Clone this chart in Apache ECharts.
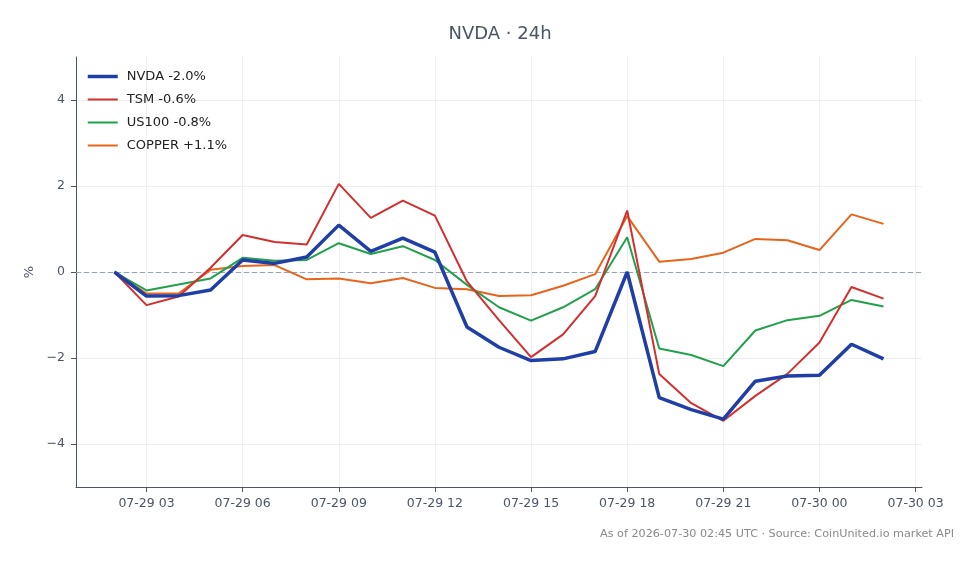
<!DOCTYPE html>
<html>
<head>
<meta charset="utf-8">
<script src="https://cdn.jsdelivr.net/npm/echarts@6/dist/echarts.min.js"></script>
<style>
  html, body { margin: 0; padding: 0; background: #fff; }
  #main { width: 980px; height: 564px; }
</style>
</head>
<body>
<div id="main"></div>
<script>
// hours since 07-29 00:00 UTC
var hours = [2, 3, 4, 5, 6, 7, 8, 9, 10, 11, 12, 13, 14, 15, 16, 17, 18, 19, 20, 21, 22, 23, 24, 25, 26];
var nvda = [0, -0.56, -0.55, -0.42, 0.28, 0.2, 0.35, 1.09, 0.48, 0.79, 0.46, -1.28, -1.75, -2.06, -2.02, -1.85, 0, -2.92, -3.2, -3.42, -2.54, -2.42, -2.4, -1.68, -2.02];
var tsm = [0, -0.77, -0.57, 0.1, 0.86, 0.7, 0.64, 2.05, 1.26, 1.66, 1.31, -0.22, -1.12, -1.98, -1.45, -0.56, 1.43, -2.37, -3.05, -3.46, -2.88, -2.37, -1.64, -0.35, -0.62];
var us100 = [0, -0.43, -0.29, -0.15, 0.33, 0.26, 0.28, 0.67, 0.42, 0.6, 0.28, -0.3, -0.82, -1.13, -0.82, -0.4, 0.81, -1.78, -1.93, -2.19, -1.36, -1.12, -1.02, -0.65, -0.8];
var copper = [0, -0.5, -0.5, 0.05, 0.14, 0.16, -0.17, -0.15, -0.26, -0.14, -0.37, -0.4, -0.56, -0.54, -0.32, -0.05, 1.3, 0.24, 0.3, 0.45, 0.77, 0.74, 0.51, 1.34, 1.12];
var xTicks = [3, 6, 9, 12, 15, 18, 21, 24, 27];
var yTicks = [-4, -2, 0, 2, 4];

var names = ['NVDA -2.0%', 'TSM -0.6%', 'US100 -0.8%', 'COPPER +1.1%'];
var colors = ['#1f3fa6', '#d32f2f', '#22a04b', '#e8641b'];
var widths = [3.5, 2, 2, 2];
var values = [nvda, tsm, us100, copper];

function pair(vals) {
    return hours.map(function (h, i) { return [h, vals[i]]; });
}

var font = 'DejaVu Sans';
var inkColor = '#4a5568';

var chartDom = document.getElementById('main');
var myChart = echarts.init(chartDom);

var series = values.map(function (vals, i) {
    return {
        name: names[i],
        type: 'line',
        data: pair(vals),
        symbol: 'none',
        z: 10 - i,
        lineStyle: { color: colors[i], width: widths[i] },
        itemStyle: { color: colors[i] }
    };
});
// zero line
series[0].markLine = {
    silent: true,
    symbol: 'none',
    label: { show: false },
    lineStyle: { color: '#94a3b8', type: [5, 3], width: 1 },
    data: [{ yAxis: 0 }]
};

var option = {
    animation: false,
    textStyle: { fontFamily: font },
    title: [{
        text: 'NVDA · 24h',
        left: 495,
        top: 20,
        textAlign: 'center',
        textStyle: { fontFamily: font, fontSize: 18, fontWeight: 'normal', color: inkColor }
    }, {
        text: 'As of 2026-07-30 02:45 UTC · Source: CoinUnited.io market API',
        right: 21,
        top: 524,
        textStyle: { fontFamily: font, fontSize: 11.2, fontWeight: 'normal', color: '#8a8a8a' }
    }],
    legend: {
        orient: 'vertical',
        left: 86,
        top: 70,
        padding: 0,
        itemWidth: 30,
        itemHeight: 11,
        itemGap: 10,
        itemStyle: { opacity: 0 },
        textStyle: { fontFamily: font, fontSize: 13, color: '#222', padding: [0, 0, 0, 4] },
        data: names.map(function (n, i) {
            return { name: n, lineStyle: { width: widths[i], color: colors[i] } };
        })
    },
    grid: { left: 76, right: 58, top: 57, bottom: 77 },
    xAxis: {
        type: 'value',
        min: 0.8,
        max: 27.2,
        axisLine: { onZero: false, lineStyle: { color: inkColor, width: 1 } },
        axisTick: { show: true, length: 5, lineStyle: { color: inkColor }, customValues: xTicks },
        axisLabel: {
            customValues: xTicks,
            color: inkColor, fontSize: 12.5, fontFamily: font, margin: 10,
            formatter: function (h) {
                var day = h < 24 ? '07-29' : '07-30';
                var hh = h % 24;
                return day + ' ' + (hh < 10 ? '0' + hh : hh);
            }
        },
        splitLine: { show: true, lineStyle: { color: '#eceef2', width: 1 } }
    },
    yAxis: {
        type: 'value',
        min: -5,
        max: 5,
        name: '%',
        nameLocation: 'middle',
        nameGap: 39,
        nameTextStyle: { color: inkColor, fontSize: 13, fontFamily: font },
        axisLine: { show: true, onZero: false, lineStyle: { color: inkColor, width: 1 } },
        axisTick: { show: true, length: 5, lineStyle: { color: inkColor }, customValues: yTicks },
        axisLabel: {
            customValues: yTicks,
            color: inkColor, fontSize: 12.5, fontFamily: font, margin: 11,
            formatter: function (v) { return String(v).replace('-', '\u2212'); }
        },
        splitLine: { show: true, lineStyle: { color: '#eceef2', width: 1 } }
    },
    series: series
};

myChart.setOption(option);
</script>
</body>
</html>
